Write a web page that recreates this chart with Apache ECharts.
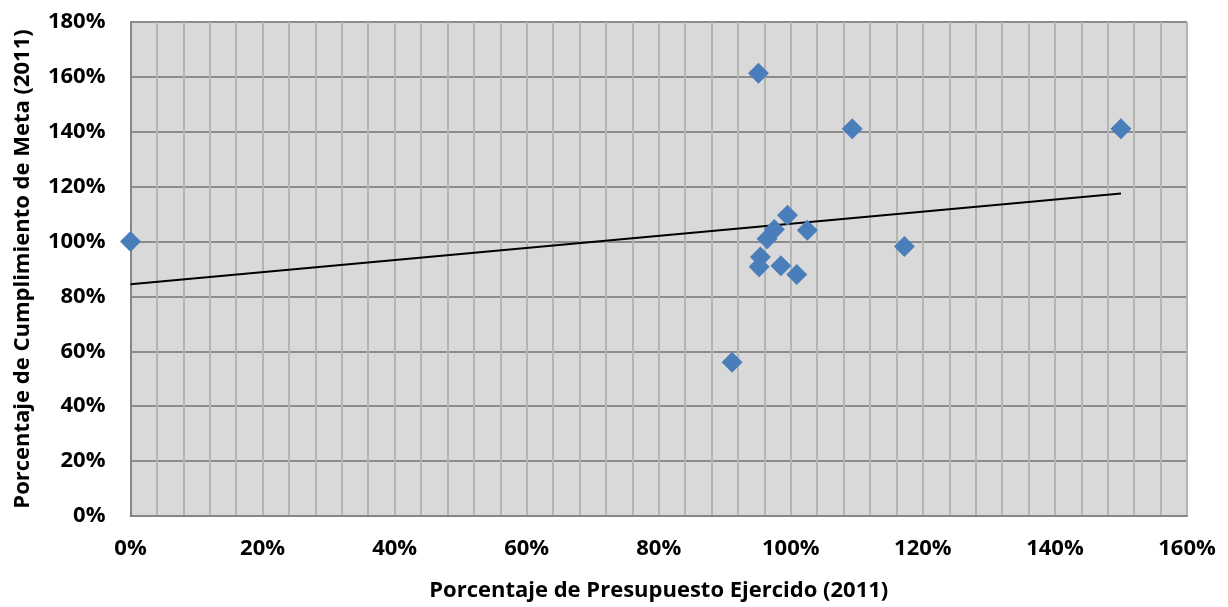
<!DOCTYPE html>
<html>
<head>
<meta charset="utf-8">
<script src="https://cdn.jsdelivr.net/npm/echarts@6/dist/echarts.min.js"></script>
<style>html,body{margin:0;padding:0;background:#fff}#c{width:1228px;height:607px}</style>
</head>
<body>
<div id="c"></div>
<script>
// Porcentaje de Presupuesto Ejercido (2011), %
const presupuesto = [0, 95.1, 109.3, 150, 99.5, 102.5, 97.5, 96.4, 95.4, 95.2, 98.5, 100.9, 117.2, 91.1];
// Porcentaje de Cumplimiento de Meta (2011), %
const cumplimiento = [100, 161.3, 141.1, 141.1, 109.6, 104.1, 104.4, 101, 94.4, 90.8, 91.2, 88, 98.2, 56];
// Trend line endpoints
const trendX = [0, 150];
const trendY = [84.4, 117.5];
const xTicks = [0, 20, 40, 60, 80, 100, 120, 140, 160];
const yTicks = [0, 20, 40, 60, 80, 100, 120, 140, 160, 180];

const points = presupuesto.map((x, i) => [x, cumplimiento[i]]);
const trend = trendX.map((x, i) => [x, trendY[i]]);

const font = '"Open Sans", "Noto Sans", sans-serif';
const chart = echarts.init(document.getElementById('c'));
chart.setOption({
  animation: false,
  grid: {
    left: 130.5, right: 41, top: 22, bottom: 90,
    show: true, backgroundColor: '#d9d9d9', borderColor: '#9a9a9a', borderWidth: 1
  },
  xAxis: {
    type: 'value', min: xTicks[0], max: xTicks[xTicks.length - 1], interval: 20,
    name: 'Porcentaje de Presupuesto Ejercido (2011)', nameLocation: 'middle', nameGap: 64,
    nameTextStyle: { fontFamily: font, fontWeight: 'bold', fontSize: 22, color: '#000' },
    axisLine: { show: true, lineStyle: { color: '#868686', width: 2 } },
    axisTick: { show: false },
    axisLabel: { formatter: '{value}%', fontFamily: font, fontWeight: 'bold', fontSize: 22, color: '#000', margin: 22 },
    splitLine: { show: true, lineStyle: { color: '#b4b4b4', width: 2 } },
    minorTick: { show: false, splitNumber: 5 },
    minorSplitLine: { show: true, lineStyle: { color: '#b4b4b4', width: 2 } }
  },
  yAxis: {
    type: 'value', min: yTicks[0], max: yTicks[yTicks.length - 1], interval: 20,
    name: 'Porcentaje de Cumplimiento de Meta (2011)', nameLocation: 'middle', nameGap: 97,
    nameTextStyle: { fontFamily: font, fontWeight: 'bold', fontSize: 22, color: '#000' },
    axisLine: { show: true, lineStyle: { color: '#868686', width: 2 } },
    axisTick: { show: false },
    axisLabel: { formatter: '{value}%', fontFamily: font, fontWeight: 'bold', fontSize: 22, color: '#000', margin: 25 },
    splitLine: { show: true, lineStyle: { color: '#8c8c8c', width: 2 } }
  },
  series: [
    {
      type: 'line', data: trend, symbol: 'none', silent: true,
      lineStyle: { color: '#000', width: 2 }, z: 2
    },
    {
      type: 'scatter', data: points, symbol: 'diamond', symbolSize: 21,
      itemStyle: { color: '#4a7ebb', opacity: 1 }, z: 3
    }
  ]
});
</script>
</body>
</html>
